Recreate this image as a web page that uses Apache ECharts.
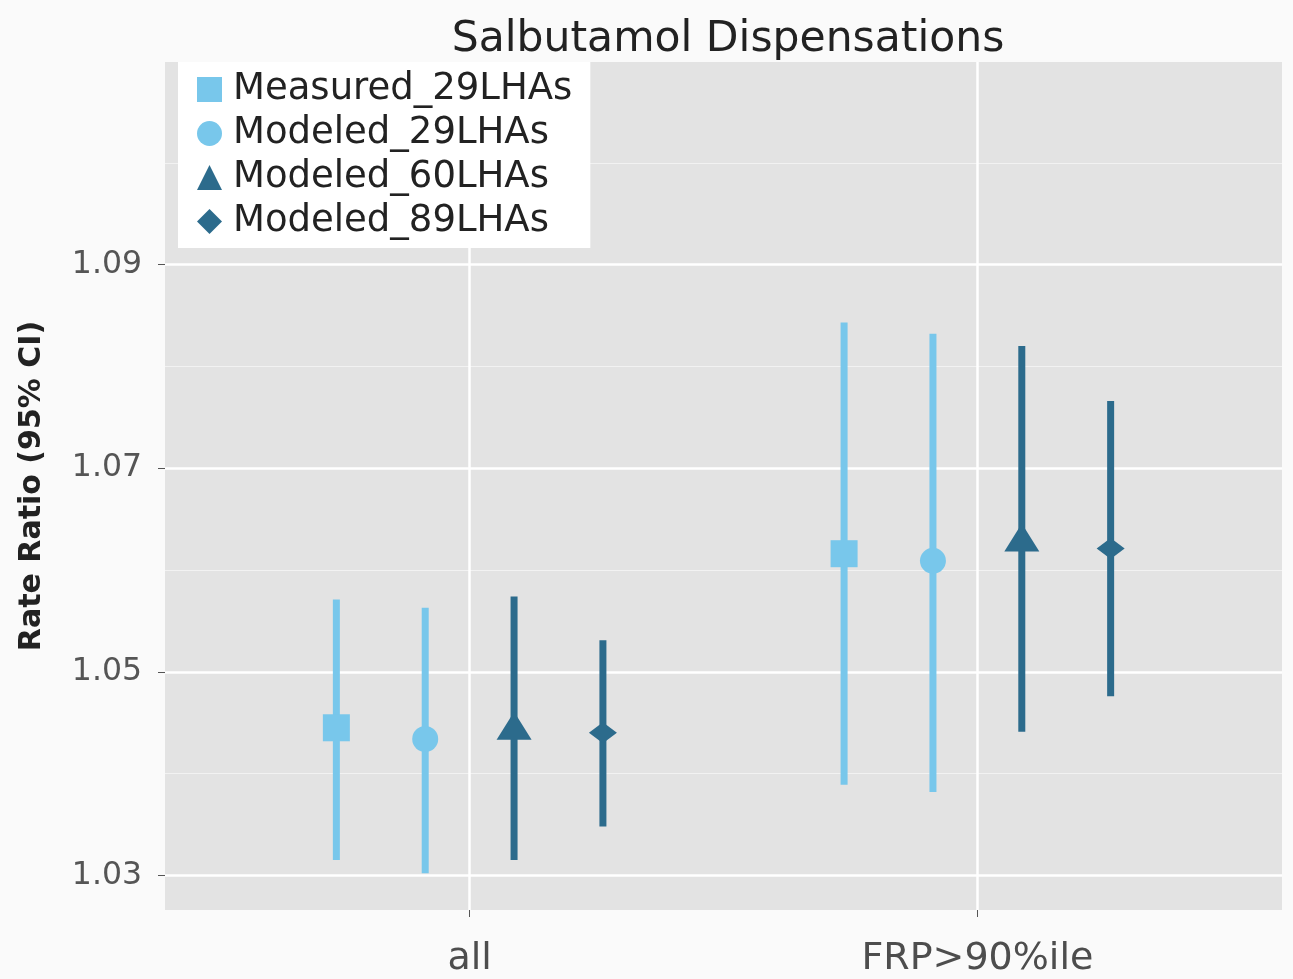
<!DOCTYPE html>
<html>
<head>
<meta charset="utf-8">
<title>Salbutamol Dispensations</title>
<script src="https://cdn.jsdelivr.net/npm/echarts@6/dist/echarts.min.js"></script>
<style>
  html, body { margin: 0; padding: 0; background: #FAFAFA; }
  #chart { width: 1293px; height: 979px; }
</style>
</head>
<body>
<div id="chart"></div>
<script>
// categories on the x axis
const categories = ['all', 'FRP>90%ile'];
const groups = ['Measured_29LHAs', 'Modeled_29LHAs', 'Modeled_60LHAs', 'Modeled_89LHAs'];

// point estimates and 95% CI per group, one value per category
const measured29Est = [1.0445, 1.0616];
const measured29Lo = [1.0315, 1.0389];
const measured29Hi = [1.0571, 1.0843];

const modeled29Est = [1.0434, 1.0609];
const modeled29Lo = [1.0302, 1.0382];
const modeled29Hi = [1.0563, 1.0832];

const modeled60Est = [1.0447, 1.0632];
const modeled60Lo = [1.0315, 1.0441];
const modeled60Hi = [1.0574, 1.0820];

const modeled89Est = [1.0440, 1.0621];
const modeled89Lo = [1.0348, 1.0476];
const modeled89Hi = [1.0531, 1.0766];

const yTicks = [1.03, 1.05, 1.07, 1.09];
const yMinor = [1.04, 1.06, 1.08, 1.10];

const light = '#78C7EB';
const dark = '#2C6B8C';
const font = '"DejaVu Sans", "Liberation Sans", Arial, sans-serif';

const groupData = [
  { est: measured29Est, lo: measured29Lo, hi: measured29Hi, color: light, symbol: 'rect', size: 27 },
  { est: modeled29Est, lo: modeled29Lo, hi: modeled29Hi, color: light, symbol: 'circle', size: 26 },
  { est: modeled60Est, lo: modeled60Lo, hi: modeled60Hi, color: dark, symbol: 'triangle', size: [35, 28] },
  { est: modeled89Est, lo: modeled89Lo, hi: modeled89Hi, color: dark, symbol: 'diamond', size: [28, 21] },
];

// position_dodge(width = 0.7)
const dodge = 0.7;
const offsetFor = (i) => -dodge / 2 + dodge / groups.length * (i + 0.5);

const series = [];

// grid lines (ggplot2 style), kept under the data
series.push({
  type: 'line',
  data: [],
  z: 1,
  silent: true,
  markLine: {
    z: 1,
    silent: true,
    symbol: 'none',
    label: { show: false },
    animation: false,
    data: [
      ...yMinor.map(v => ({ yAxis: v, lineStyle: { color: '#F2F2F2', width: 1.2, type: 'solid' } })),
      ...yTicks.map(v => ({ yAxis: v, lineStyle: { color: '#FFFFFF', width: 2.5, type: 'solid' } })),
      ...categories.map((c, i) => ({ xAxis: i + 1, lineStyle: { color: '#FFFFFF', width: 2.5, type: 'solid' } })),
    ],
  },
});

groupData.forEach((g, gi) => {
  const rows = categories.map((c, ci) => [ci + 1 + offsetFor(gi), g.lo[ci], g.hi[ci]]);
  series.push({
    type: 'custom',
    name: groups[gi] + '_ci',
    z: 3,
    silent: true,
    data: rows,
    renderItem(params, api) {
      const x = api.value(0);
      const p1 = api.coord([x, api.value(1)]);
      const p2 = api.coord([x, api.value(2)]);
      return {
        type: 'line',
        shape: { x1: p1[0], y1: p1[1], x2: p2[0], y2: p2[1] },
        style: { stroke: g.color, lineWidth: 7, lineCap: 'butt' },
      };
    },
  });
  series.push({
    type: 'scatter',
    name: groups[gi],
    z: 4,
    symbol: g.symbol,
    symbolSize: g.size,
    itemStyle: { color: g.color, opacity: 1 },
    data: categories.map((c, ci) => [ci + 1 + offsetFor(gi), g.est[ci]]),
  });
});

const chart = echarts.init(document.getElementById('chart'), null, { renderer: 'canvas' });
chart.setOption({
  backgroundColor: '#FAFAFA',
  animation: false,
  textStyle: { fontFamily: font },
  title: {
    text: 'Salbutamol Dispensations',
    left: 723,
    textAlign: 'center',
    top: 13,
    textStyle: { fontFamily: font, fontSize: 42.5, fontWeight: 'normal', color: '#222' },
  },
  legend: {
    data: groups.map((name, i) => ({ name, icon: groupData[i].symbol })),
    orient: 'vertical',
    left: 178,
    top: 62,
    z: 20,
    backgroundColor: '#FFFFFF',
    padding: [9, 18, 8, 19],
    itemWidth: 25,
    itemHeight: 25,
    itemGap: 7,
    selectedMode: false,
    textStyle: { fontFamily: font, fontSize: 37, lineHeight: 35, color: '#222', padding: [0, 0, 0, 6] },
  },
  grid: {
    left: 165,
    right: 11,
    top: 62,
    bottom: 69,
    show: true,
    backgroundColor: '#E3E3E3',
    borderWidth: 0,
  },
  xAxis: {
    type: 'value',
    min: 0.4,
    max: 2.6,
    axisLine: { show: false },
    splitLine: { show: false },
    axisTick: { show: true, customValues: [1, 2], length: 7, lineStyle: { color: '#555', width: 1 } },
    axisLabel: {
      customValues: [1, 2],
      formatter: v => categories[Math.round(v) - 1] || '',
      fontFamily: font,
      fontSize: 38,
      color: '#4D4D4D',
      margin: 30,
    },
  },
  yAxis: {
    type: 'value',
    min: 1.0266,
    max: 1.1099,
    name: 'Rate Ratio (95% CI)',
    nameLocation: 'middle',
    nameGap: 118,
    nameRotate: 90,
    nameTextStyle: { fontFamily: font, fontSize: 30, fontWeight: 'bold', color: '#222' },
    axisLine: { show: false },
    splitLine: { show: false },
    axisTick: { show: true, customValues: yTicks, length: 7, lineStyle: { color: '#555', width: 1 } },
    axisLabel: {
      customValues: yTicks,
      formatter: v => v.toFixed(2),
      fontFamily: font,
      fontSize: 31.5,
      color: '#555',
      margin: 23,
    },
  },
  series,
});
</script>
</body>
</html>
